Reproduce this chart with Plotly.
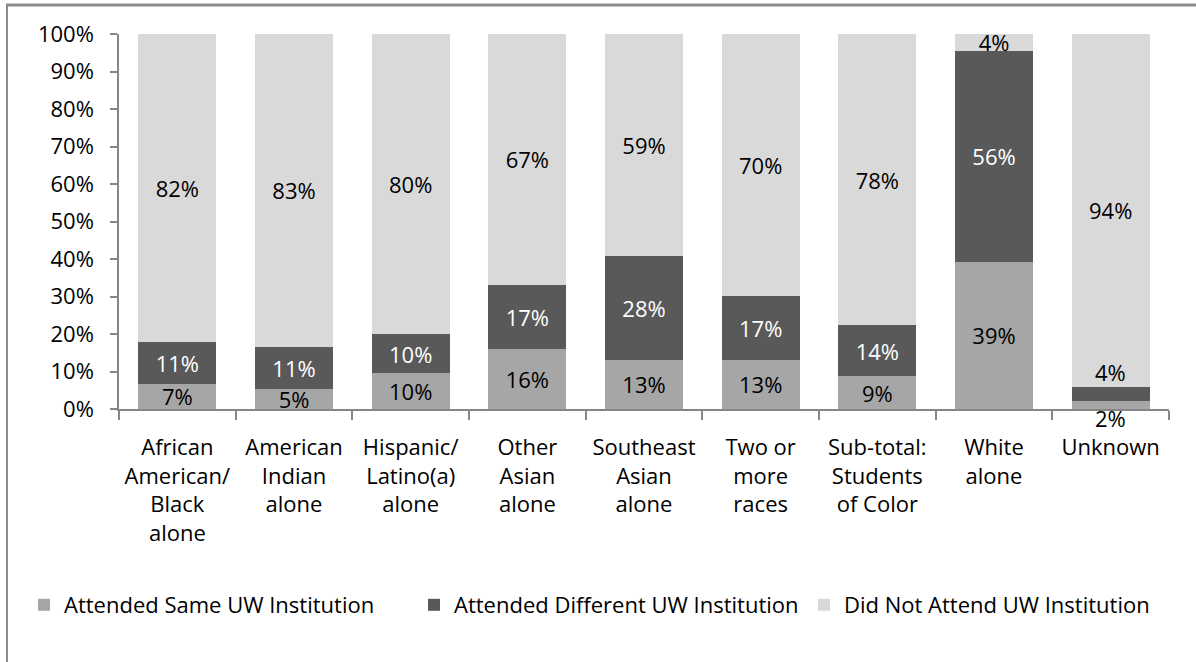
import plotly.graph_objects as go

categories = [
    "African<br>American/<br>Black<br>alone",
    "American<br>Indian<br>alone",
    "Hispanic/<br>Latino(a)<br>alone",
    "Other<br>Asian<br>alone",
    "Southeast<br>Asian<br>alone",
    "Two or<br>more<br>races",
    "Sub-total:<br>Students<br>of Color",
    "White<br>alone",
    "Unknown",
]
same_uw = [6.8, 5.4, 9.6, 16.0, 13.2, 13.2, 8.8, 39.3, 2.2]
different_uw = [11.2, 11.2, 10.4, 17.2, 27.6, 16.9, 13.6, 56.3, 3.7]
not_uw = [82.0, 83.4, 80.0, 66.8, 59.2, 69.9, 77.6, 4.4, 94.1]

series_names = ["Attended Same UW Institution", "Attended Different UW Institution", "Did Not Attend UW Institution"]
series_values = [same_uw, different_uw, not_uw]
series_colors = ["#A6A6A6", "#595959", "#D9D9D9"]
label_colors = ["#000000", "#FFFFFF", "#000000"]

FONT = "Open Sans"
LAST = len(categories) - 1  # the thin "Unknown" bar: its two small labels sit outside the segments

fig = go.Figure()
for si, (name, vals, col, lc) in enumerate(zip(series_names, series_values, series_colors, label_colors)):
    texts = [f"{v:.0f}%" for v in vals]
    if si < 2:
        texts[LAST] = ""
    fig.add_trace(go.Bar(
        x=categories, y=vals, name=name,
        marker=dict(color=col, line=dict(width=0)),
        text=texts,
        textposition="inside", insidetextanchor="middle",
        constraintext="none", textangle=0,
        textfont=dict(family=FONT, size=22, color=lc),
        hoverinfo="skip",
    ))

# labels of the thin Unknown segments (same: below the axis, different: just above its segment)
fig.add_annotation(x=categories[LAST], y=0, xref="x", yref="y",
                   text=f"{same_uw[LAST]:.0f}%", showarrow=False,
                   yanchor="top", yshift=8,
                   font=dict(family=FONT, size=22, color="#000000"))
fig.add_annotation(x=categories[LAST], y=same_uw[LAST] + different_uw[LAST], xref="x", yref="y",
                   text=f"{different_uw[LAST]:.0f}%", showarrow=False,
                   yanchor="bottom", yshift=-2,
                   font=dict(family=FONT, size=22, color="#000000"))

L, R, T, B = 119, 27, 34, 253
W, H = 1196, 662
pw, ph = W - L - R, H - T - B

def px_x(p):
    return (p - L) / pw

def px_y(p):
    return (H - B - p) / ph

frame = dict(color="#8C8C8C", width=3)

fig.update_layout(
    width=W, height=H,
    barmode="stack", bargap=0.33,
    margin=dict(l=L, r=R, t=T, b=B, pad=0),
    paper_bgcolor="white", plot_bgcolor="white",
    font=dict(family=FONT, size=22, color="#000000"),
    showlegend=True,
    legend=dict(
        orientation="h", x=px_x(24), xanchor="left",
        y=px_y(605), yanchor="middle",
        font=dict(family=FONT, size=22, color="#000000"),
        entrywidth=345, entrywidthmode="pixels",
        traceorder="normal",
        itemclick=False, itemdoubleclick=False,
    ),
    xaxis=dict(
        showgrid=False, showline=True, linecolor="#868686", linewidth=1.5,
        ticks="outside", ticklen=9, tickcolor="#868686", tickwidth=1.5,
        tickson="boundaries", tickangle=0, ticklabelstandoff=18,
        tickfont=dict(family=FONT, size=22, color="#000000"),
        fixedrange=True,
    ),
    yaxis=dict(
        range=[0, 100], tickmode="array",
        tickvals=[0, 10, 20, 30, 40, 50, 60, 70, 80, 90, 100],
        ticktext=["0%", "10%", "20%", "30%", "40%", "50%", "60%", "70%", "80%", "90%", "100%"],
        showgrid=False, showline=True, linecolor="#868686", linewidth=1.5,
        ticks="outside", ticklen=7, tickcolor="#868686", tickwidth=1.5,
        ticklabelstandoff=12,
        tickfont=dict(family=FONT, size=22, color="#000000"),
        zeroline=False, fixedrange=True,
    ),
    shapes=[
        dict(type="line", xref="paper", yref="paper",
             x0=px_x(6), x1=px_x(W), y0=px_y(5), y1=px_y(5), line=frame, layer="above"),
        dict(type="line", xref="paper", yref="paper",
             x0=px_x(7), x1=px_x(7), y0=px_y(5), y1=px_y(H), line=dict(color="#8C8C8C", width=2), layer="above"),
    ],
)

fig.write_html("out.html", config={"displayModeBar": False},
               post_script="document.body.style.margin='0';")
